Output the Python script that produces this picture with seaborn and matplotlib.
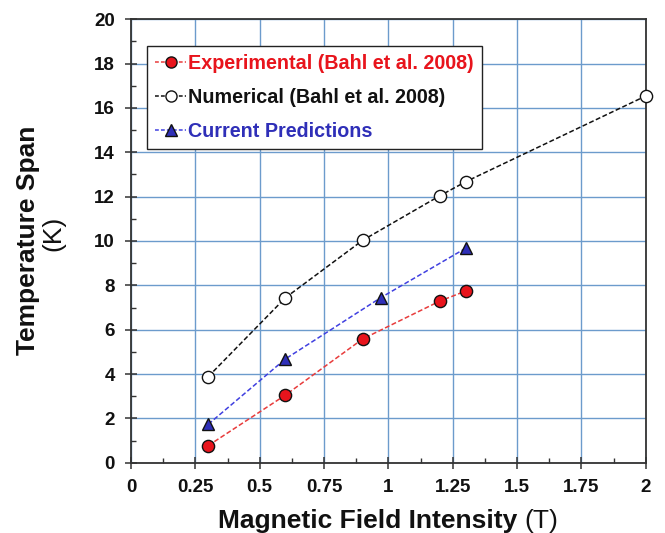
import matplotlib
matplotlib.use("Agg")
import matplotlib.pyplot as plt
from matplotlib.ticker import MultipleLocator
from matplotlib.lines import Line2D
import seaborn as sns
import pandas as pd

# Measured temperature span vs. applied field
exp_field = [0.3, 0.6, 0.9, 1.2, 1.3]
exp_span = [0.77, 3.05, 5.58, 7.29, 7.74]

num_field = [0.3, 0.6, 0.9, 1.2, 1.3, 2.0]
num_span = [3.88, 7.44, 10.03, 12.04, 12.67, 16.54]

cur_field = [0.3, 0.6, 0.97, 1.3]
cur_span = [1.73, 4.68, 7.44, 9.67]

series_labels = ["Experimental (Bahl et al. 2008)",
                 "Numerical (Bahl et al. 2008)",
                 "Current Predictions"]

x_ticks = [0, 0.25, 0.5, 0.75, 1, 1.25, 1.5, 1.75, 2]
x_tick_labels = ["0", "0.25", "0.5", "0.75", "1", "1.25", "1.5", "1.75", "2"]
y_ticks = [0, 2, 4, 6, 8, 10, 12, 14, 16, 18, 20]

sns.set_theme(style="ticks")
plt.rcParams["font.family"] = ["Liberation Sans", "DejaVu Sans"]

RED = "#e8141c"
RED_LINE = "#e83c3c"
BLACK = "#111111"
BLUE = "#2f2fb8"
BLUE_LINE = "#4040e0"
GRID = "#6c9bcc"

fig = plt.figure(figsize=(6.65, 5.33), dpi=100)
ax = fig.add_axes([0.197, 0.1319, 0.774, 0.8319])

styles = [
    (exp_field, exp_span, RED_LINE, "o", RED, BLACK),
    (num_field, num_span, BLACK, "o", "white", BLACK),
    (cur_field, cur_span, BLUE_LINE, "^", BLUE, BLACK),
]

handles = []
for (xs, ys, lc, mk, fc, ec), lab in zip(styles, series_labels):
    df = pd.DataFrame({"field": xs, "span": ys})
    sns.lineplot(data=df, x="field", y="span", ax=ax, sort=False,
                 color=lc, linestyle=(0, (3.2, 1.6)), linewidth=1.1,
                 marker=mk, markersize=8.8 if mk == "o" else 9.2,
                 markerfacecolor=fc, markeredgecolor=ec,
                 markeredgewidth=1.0, zorder=4, clip_on=False)
    handles.append(Line2D([], [], color=lc, linestyle=(0, (2.5, 1.4)),
                          linewidth=1.1, marker=mk,
                          markersize=8 if mk == "o" else 8.5,
                          markerfacecolor=fc, markeredgecolor=ec,
                          markeredgewidth=1.0))

ax.set_xlim(0, 2)
ax.set_ylim(0, 20)
ax.set_xticks(x_ticks)
ax.set_xticklabels(x_tick_labels)
ax.set_yticks(y_ticks)
ax.xaxis.set_minor_locator(MultipleLocator(0.125))
ax.yaxis.set_minor_locator(MultipleLocator(1))
ax.set_xlabel("")
ax.set_ylabel("")

ax.grid(True, which="major", color=GRID, linewidth=1.0, zorder=0)
ax.set_axisbelow(True)

for side in ["left", "bottom", "top", "right"]:
    ax.spines[side].set_visible(True)
    ax.spines[side].set_color("#333333")
    ax.spines[side].set_linewidth(1.3)

ax.tick_params(which="major", direction="inout", length=8, width=1.1,
               color="#333333", pad=7.5, labelsize=13.5)
ax.tick_params(which="minor", direction="in", length=3.5, width=1.0,
               color="#333333")
ax.tick_params(top=False, right=False, which="both")
for lbl in ax.get_xticklabels() + ax.get_yticklabels():
    lbl.set_fontweight("bold")
    lbl.set_color("#111111")

leg = ax.legend(handles, series_labels, loc="upper left",
                bbox_to_anchor=(0.031, 0.94), borderaxespad=0,
                frameon=True, fancybox=False, framealpha=1,
                edgecolor="#222222", prop={"weight": "bold", "size": 14.2},
                handlelength=1.55, handletextpad=0.12, labelspacing=0.76,
                borderpad=0.42)
leg.get_frame().set_linewidth(1.0)
leg.set_zorder(6)
for txt, col in zip(leg.get_texts(), [RED, BLACK, BLUE]):
    txt.set_color(col)

# Axis titles: bold name followed by a regular-weight unit
W, H = 665.0, 533.0
fig.canvas.draw()
renderer = fig.canvas.get_renderer()

xl_main = fig.text(0, 5 / H, "Magnetic Field Intensity ", fontsize=19,
                   fontweight="bold", color="#111111", va="baseline", ha="left")
xl_unit = fig.text(0, 5 / H, "(T)", fontsize=19, fontweight="normal",
                   color="#111111", va="baseline", ha="left")
w1 = xl_main.get_window_extent(renderer).width
w2 = xl_unit.get_window_extent(renderer).width
cx = 388.0
start = cx - (w1 + w2) / 2
xl_main.set_x(start / W)
xl_unit.set_x((start + w1) / W)

fig.text(35 / W, (H - 240) / H, "Temperature Span", fontsize=19,
         fontweight="bold", color="#111111", rotation=90,
         rotation_mode="anchor", ha="center", va="baseline")
fig.text(60 / W, (H - 233) / H, "(K)", fontsize=19, fontweight="normal",
         color="#111111", rotation=90, rotation_mode="anchor",
         ha="center", va="baseline")

fig.savefig("out.png", dpi=100)
